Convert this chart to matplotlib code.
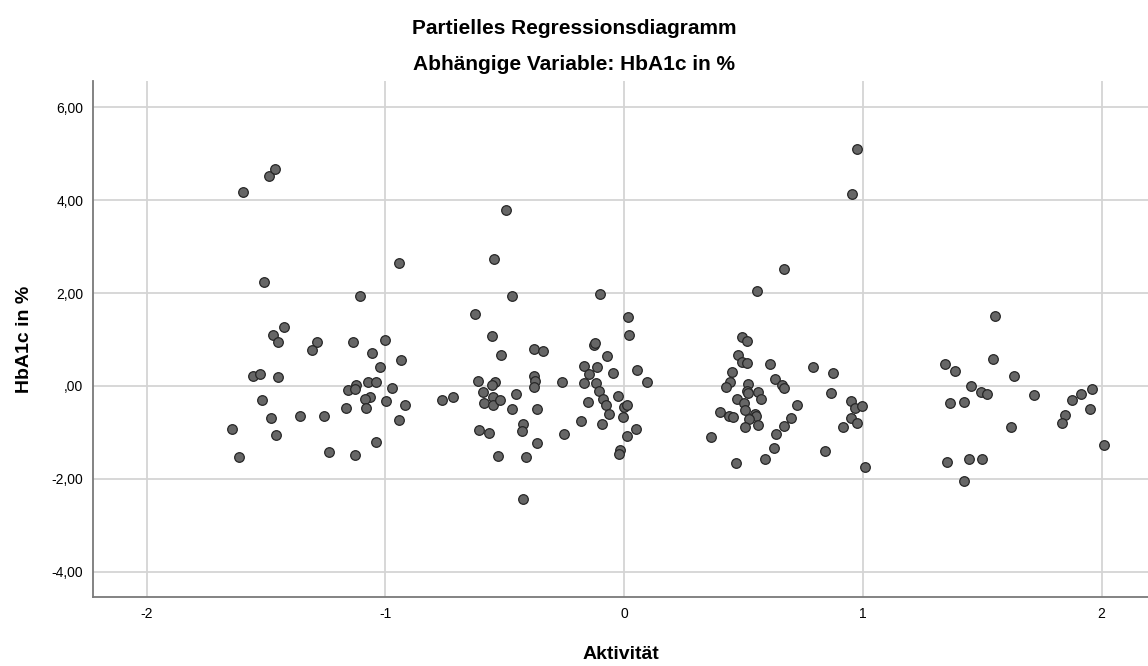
import matplotlib
matplotlib.use("Agg")
import matplotlib.pyplot as plt
from matplotlib.ticker import FuncFormatter

plt.rcParams['font.family'] = ['Liberation Sans', 'DejaVu Sans']
plt.rcParams['axes.unicode_minus'] = False

# Aktivität (x) und HbA1c in % (y), partielle Residuen
aktivitaet = [
    -1.597, -1.488, -1.463, -1.509, -1.107, -0.943, -1.425, -1.471, -1.450, -1.287,
    -1.308, -1.136, -1.002, -1.056, -0.935, -1.023, -1.555, -1.525, -1.450, -1.123,
    -1.157, -1.128, -1.073, -1.040, -0.973, -1.517, -1.065, -1.086, -0.998, -0.918,
    -1.165, -1.081, -1.479, -1.358, -1.257, -0.943, -1.643, -1.458, -1.040, -1.613,
    -1.236, -1.128,
    -0.763, -0.717, -0.495, -0.545, -0.470, -0.101, -0.625, 0.016, -0.554, -0.516,
    -0.378, -0.340, -0.126, -0.122, -0.072, 0.020, -0.168, -0.114, -0.147, -0.047,
    0.054, 0.095, -0.612, -0.541, -0.554, -0.378, -0.374, -0.378, -0.261, -0.168,
    -0.118, -0.591, -0.550, -0.453, -0.587, -0.550, -0.520, -0.470, -0.365, -0.106,
    -0.089, -0.076, -0.064, -0.152, -0.026, -0.001, 0.012, -0.005, -0.181, -0.093,
    0.049, 0.012, -0.424, -0.428, -0.608, -0.566, -0.252, -0.365, -0.529, -0.411,
    -0.018, -0.022, -0.424,
    0.975, 0.954, 0.669, 0.556, 0.493, 0.514, 0.477, 0.493, 0.514, 0.611,
    0.791, 0.875, 0.452, 0.443, 0.426, 0.519, 0.514, 0.519, 0.560, 0.573,
    0.632, 0.661, 0.669, 0.866, 0.950, 0.967, 0.996, 0.472, 0.502, 0.724,
    0.506, 0.401, 0.439, 0.456, 0.548, 0.552, 0.523, 0.699, 0.950, 0.975,
    0.916, 0.506, 0.560, 0.669, 0.636, 0.364, 0.627, 0.841, 0.590, 0.468,
    1.009,
    1.553, 1.344, 1.386, 1.545, 1.633, 1.453, 1.494, 1.520, 1.716, 1.365,
    1.423, 1.876, 1.913, 1.959, 1.951, 1.846, 1.834, 1.620, 2.010, 1.352,
    1.444, 1.499, 1.423,
]
hba1c = [
    4.175, 4.520, 4.671, 2.237, 1.936, 2.646, 1.268, 1.096, 0.945, 0.945,
    0.773, 0.945, 0.988, 0.708, 0.558, 0.407, 0.213, 0.256, 0.192, 0.019,
    -0.088, -0.067, 0.084, 0.084, -0.045, -0.304, -0.239, -0.282, -0.325, -0.411,
    -0.476, -0.476, -0.691, -0.648, -0.648, -0.734, -0.928, -1.057, -1.208, -1.531,
    -1.423, -1.488,
    -0.304, -0.239, 3.788, 2.733, 1.936, 1.979, 1.548, 1.484, 1.075, 0.665,
    0.795, 0.752, 0.881, 0.924, 0.644, 1.096, 0.429, 0.407, 0.256, 0.278,
    0.342, 0.084, 0.106, 0.084, 0.019, 0.213, 0.106, -0.024, 0.084, 0.062,
    0.062, -0.131, -0.239, -0.174, -0.368, -0.411, -0.304, -0.497, -0.497, -0.110,
    -0.282, -0.411, -0.605, -0.347, -0.217, -0.454, -0.411, -0.670, -0.756, -0.820,
    -0.928, -1.079, -0.820, -0.971, -0.950, -1.014, -1.036, -1.230, -1.510, -1.531,
    -1.380, -1.467, -2.435,
    5.101, 4.132, 2.517, 2.043, 1.053, 0.967, 0.665, 0.515, 0.493, 0.472,
    0.407, 0.278, 0.299, 0.084, -0.024, 0.041, -0.110, -0.153, -0.131, -0.282,
    0.149, 0.019, -0.045, -0.153, -0.325, -0.476, -0.433, -0.282, -0.368, -0.411,
    -0.519, -0.562, -0.648, -0.670, -0.605, -0.648, -0.713, -0.691, -0.691, -0.799,
    -0.885, -0.885, -0.842, -0.863, -1.036, -1.101, -1.337, -1.402, -1.574, -1.660,
    -1.746,
    1.505, 0.472, 0.321, 0.579, 0.213, -0.002, -0.131, -0.174, -0.196, -0.368,
    -0.347, -0.304, -0.174, -0.067, -0.497, -0.627, -0.799, -0.885, -1.273, -1.639,
    -1.574, -1.574, -2.047,
]

x_ticks = [-2, -1, 0, 1, 2]
y_ticks = [-4, -2, 0, 2, 4, 6]

fig = plt.figure(figsize=(11.48, 6.66), dpi=100)
ax = fig.add_axes([93/1148, 1 - 597/666, 1 - 93/1148, (597 - 81)/666])

ax.scatter(aktivitaet, hba1c, s=48, c='#666666', edgecolors='#262626',
           linewidths=0.9, zorder=3)

ax.set_xlim(-2.225, 2.194)
ax.set_ylim(-4.545, 6.566)
ax.set_xticks(x_ticks)
ax.set_yticks(y_ticks)

def de_fmt(v, pos):
    s = f"{v:.2f}".replace('.', ',')
    if s.startswith('0,'):
        s = s[1:]
    if s.startswith('-0,'):
        s = s[2:]
    return s

ax.yaxis.set_major_formatter(FuncFormatter(de_fmt))
ax.tick_params(length=0, labelsize=10, colors='black', pad=7)
ax.grid(True, color='#d4d4d4', linewidth=1.3)
ax.set_axisbelow(True)
for side in ['top', 'right']:
    ax.spines[side].set_visible(False)
for side in ['left', 'bottom']:
    ax.spines[side].set_color('#7a7a7a')
    ax.spines[side].set_linewidth(1.3)

ax.set_xlabel('Aktivität', fontsize=14, fontweight='bold', labelpad=18)
ax.set_ylabel('HbA1c in %', fontsize=14, fontweight='bold', labelpad=13)

fig.text(0.5, 1 - 28/666, 'Partielles Regressionsdiagramm', ha='center',
         va='center', fontsize=15, fontweight='bold')
fig.text(0.5, 1 - 64/666, 'Abhängige Variable: HbA1c in %', ha='center',
         va='center', fontsize=15, fontweight='bold')

fig.savefig('out.png', dpi=100)
